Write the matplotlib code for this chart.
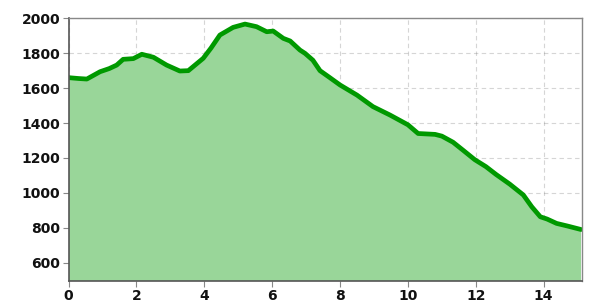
import matplotlib
matplotlib.use("Agg")
import matplotlib.pyplot as plt

distance_km = [0.0, 0.3, 0.54, 0.93, 1.2, 1.42, 1.61, 1.91, 2.16, 2.5, 2.89, 3.28, 3.53,
               3.97, 4.2, 4.46, 4.85, 5.2, 5.54, 5.84, 6.03, 6.33, 6.53, 6.82, 6.97,
               7.2, 7.41, 7.7, 8.0, 8.5, 8.97, 9.47, 10.0, 10.3, 10.8, 11.0, 11.33,
               11.62, 11.97, 12.3, 12.6, 13.0, 13.4, 13.65, 13.9, 14.1, 14.38, 14.7, 15.1]
elevation_m = [1660, 1655, 1652, 1694, 1712, 1732, 1765, 1769, 1794, 1777, 1732, 1698, 1700,
               1771, 1830, 1904, 1948, 1967, 1952, 1923, 1927, 1885, 1870, 1818, 1799,
               1760, 1700, 1660, 1618, 1560, 1494, 1446, 1390, 1340, 1335, 1325, 1290,
               1245, 1190, 1150, 1105, 1050, 988, 920, 863, 850, 825, 810, 790]

x_ticks = [0, 2, 4, 6, 8, 10, 12, 14]
y_ticks = [600, 800, 1000, 1200, 1400, 1600, 1800, 2000]

fig = plt.figure(figsize=(5.89, 3.03), dpi=100)
ax = fig.add_axes([0.1163, 0.0726, 0.9876 - 0.1163, 0.9396 - 0.0726])

ax.fill_between(distance_km, elevation_m, 0, color="#99d699", linewidth=0, zorder=2)
ax.plot(distance_km, elevation_m, color="#009900", linewidth=3.4, solid_capstyle="round",
        solid_joinstyle="round", zorder=3)

ax.set_xlim(0, 15.12)
ax.set_ylim(495, 2000)
ax.set_xticks(x_ticks)
ax.set_yticks(y_ticks)
ax.grid(True, color="#777777", alpha=0.3, linestyle=(0, (4, 3)), linewidth=0.8)
for gl in ax.get_xgridlines() + ax.get_ygridlines():
    gl.set_zorder(2.5)

for side in ["left", "bottom"]:
    ax.spines[side].set_color("#555555")
    ax.spines[side].set_linewidth(1.2)
for side in ["right", "top"]:
    ax.spines[side].set_color("#888888")
    ax.spines[side].set_linewidth(1.0)
for s in ax.spines.values():
    s.set_zorder(5)

ax.tick_params(axis="both", length=4, width=0.8, color="#888888", labelsize=10,
               labelcolor="#111111", pad=2)
for lab in ax.get_xticklabels() + ax.get_yticklabels():
    lab.set_fontweight("bold")

fig.savefig("out.png", dpi=100)
